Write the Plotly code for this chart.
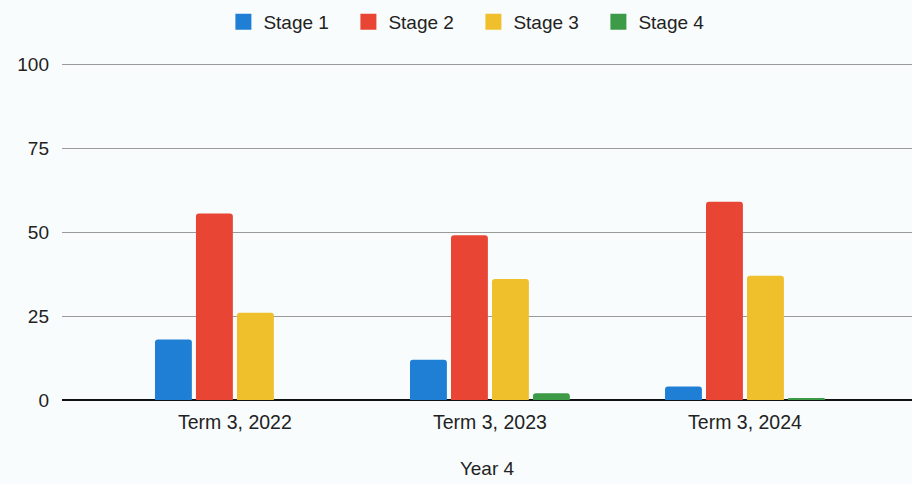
import plotly.graph_objects as go

categories = ["Term 3, 2022", "Term 3, 2023", "Term 3, 2024"]
series_names = ["Stage 1", "Stage 2", "Stage 3", "Stage 4"]
stage1 = [18, 12, 4]
stage2 = [55.5, 49, 59]
stage3 = [26, 36, 37]
stage4 = [0, 2, 0.5]
colors = ["#1f7fd4", "#e94535", "#f0bf2c", "#3d9b47"]
y_ticks = [0, 25, 50, 75, 100]

fig = go.Figure()
for name, vals, col in zip(series_names, [stage1, stage2, stage3, stage4], colors):
    fig.add_trace(go.Bar(name=name, x=categories, y=vals, showlegend=False,
                         marker=dict(color=col, line=dict(width=0), cornerradius=3)))
# legend entries with square swatches
for name, col in zip(series_names, colors):
    fig.add_trace(go.Scatter(name=name, x=[None], y=[None], mode="markers",
                             marker=dict(symbol="square", size=16, color=col),
                             showlegend=True))

font = "Liberation Sans, Arial, sans-serif"
fig.update_layout(
    width=912, height=484,
    margin=dict(l=62, r=0, t=63, b=84),
    paper_bgcolor="#f9fcfd", plot_bgcolor="#f9fcfd",
    barmode="group", bargap=0.357, bargroupgap=0.1,
    font=dict(family=font, size=19, color="#222222"),
    legend=dict(orientation="h", x=0.484, xanchor="center", y=1.122, yanchor="middle",
                font=dict(size=19, color="#222222"), traceorder="normal",
                entrywidth=80, entrywidthmode="pixels",
                bgcolor="rgba(0,0,0,0)"),
    xaxis=dict(
        type="category", range=[-0.678, 2.655], showgrid=False, ticks="",
        showline=False, zeroline=False, ticklabelstandoff=8,
        tickfont=dict(size=19.5, color="#222222"),
        title=dict(text="Year 4", font=dict(size=19, color="#222222"), standoff=30),
    ),
    yaxis=dict(
        range=[0, 100.3], tickvals=y_ticks, showgrid=True, gridcolor="#9a9a9a", gridwidth=1,
        zeroline=True, zerolinecolor="#111111", zerolinewidth=2,
        ticks="", ticklabelstandoff=12,
        tickfont=dict(size=19, color="#222222"),
    ),
)

fig.write_html("out.html")
